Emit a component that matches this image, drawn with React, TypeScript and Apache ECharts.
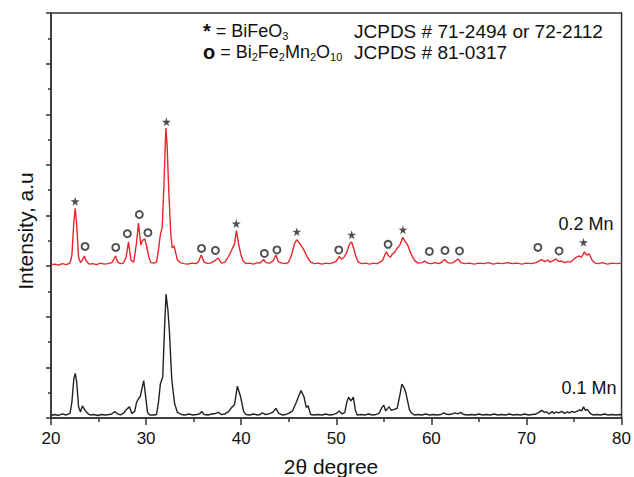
import React, { useEffect, useRef } from 'react';
import * as echarts from 'echarts';

// 2θ (degree), intensity (a.u.) — 0.2 Mn sample (offset trace, red)
const mn02: [number, number][] = [
  [20.0, 3.03], [20.4, 3.04], [20.8, 3.02], [21.2, 3.05], [21.6, 3.03], [22.0, 3.06], [22.2, 3.22],
  [22.4, 3.87], [22.55, 4.14], [22.7, 3.82], [22.9, 3.17], [23.1, 3.07], [23.3, 3.12], [23.5, 3.2],
  [23.7, 3.1], [24.0, 3.04], [24.4, 3.05], [24.8, 3.03], [25.2, 3.06], [25.6, 3.04], [26.0, 3.05],
  [26.4, 3.07], [26.8, 3.2], [27.0, 3.08], [27.3, 3.05], [27.6, 3.06], [27.9, 3.17], [28.15, 3.48],
  [28.4, 3.12], [28.7, 3.08], [29.0, 3.47], [29.2, 3.85], [29.45, 3.42], [29.6, 3.5], [29.85, 3.54],
  [30.05, 3.4], [30.3, 3.17], [30.5, 3.07], [30.8, 3.06], [31.1, 3.08], [31.3, 3.32], [31.5, 3.62],
  [31.7, 3.77], [31.9, 4.72], [32.08, 5.73], [32.2, 5.42], [32.4, 4.42], [32.6, 3.62], [32.75, 3.36],
  [32.95, 3.4], [33.1, 3.27], [33.3, 3.12], [33.6, 3.07], [34.0, 3.05], [34.4, 3.04], [34.8, 3.06],
  [35.2, 3.05], [35.5, 3.08], [35.8, 3.22], [36.1, 3.08], [36.5, 3.05], [36.9, 3.07], [37.3, 3.12],
  [37.6, 3.16], [37.9, 3.06], [38.3, 3.08], [38.7, 3.2], [39.0, 3.32], [39.3, 3.44], [39.5, 3.7],
  [39.75, 3.42], [39.95, 3.24], [40.2, 3.1], [40.5, 3.05], [40.9, 3.06], [41.3, 3.04], [41.7, 3.07],
  [42.0, 3.06], [42.35, 3.13], [42.6, 3.07], [43.0, 3.06], [43.35, 3.1], [43.65, 3.22], [43.9, 3.09],
  [44.3, 3.06], [44.7, 3.05], [45.0, 3.08], [45.3, 3.22], [45.6, 3.44], [45.85, 3.52], [46.1, 3.46],
  [46.4, 3.38], [46.7, 3.28], [47.0, 3.16], [47.3, 3.08], [47.7, 3.05], [48.1, 3.06], [48.5, 3.04],
  [48.9, 3.06], [49.3, 3.05], [49.7, 3.07], [50.0, 3.1], [50.3, 3.19], [50.55, 3.14], [50.8, 3.17],
  [51.1, 3.27], [51.35, 3.42], [51.6, 3.48], [51.85, 3.34], [52.05, 3.2], [52.3, 3.08], [52.7, 3.05],
  [53.1, 3.06], [53.5, 3.04], [53.9, 3.06], [54.3, 3.05], [54.6, 3.08], [54.9, 3.12], [55.1, 3.22],
  [55.3, 3.28], [55.5, 3.2], [55.7, 3.18], [55.9, 3.24], [56.1, 3.26], [56.4, 3.35], [56.7, 3.42],
  [57.0, 3.57], [57.2, 3.5], [57.5, 3.42], [57.8, 3.27], [58.0, 3.19], [58.3, 3.1], [58.6, 3.06],
  [59.0, 3.07], [59.3, 3.1], [59.6, 3.06], [60.0, 3.05], [60.4, 3.07], [60.8, 3.05], [61.1, 3.08],
  [61.4, 3.13], [61.7, 3.07], [62.0, 3.06], [62.3, 3.07], [62.8, 3.14], [63.1, 3.07], [63.5, 3.05],
  [64.0, 3.06], [64.5, 3.04], [65.0, 3.06], [65.5, 3.05], [66.0, 3.07], [66.5, 3.04], [67.0, 3.06],
  [67.5, 3.05], [68.0, 3.07], [68.5, 3.05], [69.0, 3.06], [69.5, 3.04], [70.0, 3.06], [70.5, 3.05],
  [71.0, 3.07], [71.3, 3.1], [71.6, 3.13], [71.9, 3.09], [72.2, 3.12], [72.5, 3.08], [72.8, 3.11],
  [73.1, 3.14], [73.4, 3.09], [73.7, 3.1], [74.0, 3.07], [74.3, 3.09], [74.6, 3.08], [74.9, 3.12],
  [75.2, 3.17], [75.5, 3.2], [75.8, 3.18], [76.1, 3.28], [76.3, 3.22], [76.6, 3.24], [76.9, 3.12],
  [77.2, 3.06], [77.6, 3.05], [78.0, 3.07], [78.5, 3.04], [79.0, 3.06], [79.5, 3.05], [80.0, 3.06],
];

// 0.1 Mn sample (black)
const mn01: [number, number][] = [
  [20.0, 0.05], [20.4, 0.07], [20.8, 0.05], [21.2, 0.08], [21.6, 0.06], [22.0, 0.09], [22.2, 0.32],
  [22.4, 0.77], [22.55, 0.88], [22.7, 0.72], [22.9, 0.22], [23.1, 0.12], [23.3, 0.24], [23.55, 0.16],
  [23.8, 0.1], [24.1, 0.06], [24.5, 0.07], [24.9, 0.05], [25.3, 0.07], [25.7, 0.06], [26.1, 0.07],
  [26.4, 0.08], [26.7, 0.13], [27.0, 0.08], [27.3, 0.06], [27.6, 0.09], [28.0, 0.18], [28.25, 0.22],
  [28.5, 0.09], [28.8, 0.13], [29.0, 0.31], [29.2, 0.38], [29.4, 0.43], [29.6, 0.61], [29.75, 0.74],
  [29.95, 0.43], [30.15, 0.11], [30.4, 0.06], [30.8, 0.06], [31.1, 0.07], [31.3, 0.31], [31.5, 0.67],
  [31.75, 0.81], [31.95, 1.82], [32.1, 2.45], [32.3, 2.12], [32.45, 1.72], [32.7, 0.76], [33.0, 0.28],
  [33.3, 0.11], [33.7, 0.07], [34.1, 0.06], [34.5, 0.08], [34.9, 0.06], [35.3, 0.07], [35.6, 0.08],
  [35.85, 0.13], [36.1, 0.07], [36.5, 0.06], [36.9, 0.08], [37.3, 0.09], [37.6, 0.11], [37.9, 0.07],
  [38.3, 0.08], [38.7, 0.13], [39.0, 0.21], [39.3, 0.26], [39.6, 0.63], [39.95, 0.41], [40.25, 0.13],
  [40.5, 0.07], [40.9, 0.06], [41.3, 0.08], [41.7, 0.06], [42.0, 0.07], [42.25, 0.1], [42.5, 0.07],
  [42.9, 0.08], [43.3, 0.11], [43.65, 0.19], [43.95, 0.09], [44.3, 0.06], [44.7, 0.07], [45.0, 0.09],
  [45.4, 0.14], [45.8, 0.31], [46.1, 0.46], [46.3, 0.54], [46.6, 0.42], [46.85, 0.21], [47.05, 0.24],
  [47.3, 0.07], [47.7, 0.06], [48.1, 0.07], [48.5, 0.06], [48.9, 0.08], [49.3, 0.06], [49.7, 0.07],
  [50.0, 0.09], [50.3, 0.14], [50.6, 0.08], [50.9, 0.11], [51.1, 0.31], [51.3, 0.41], [51.55, 0.34],
  [51.8, 0.41], [52.0, 0.16], [52.2, 0.06], [52.6, 0.07], [53.0, 0.06], [53.4, 0.08], [53.8, 0.06],
  [54.2, 0.07], [54.5, 0.09], [54.8, 0.21], [55.0, 0.25], [55.2, 0.14], [55.4, 0.19], [55.55, 0.22],
  [55.8, 0.15], [56.1, 0.17], [56.4, 0.19], [56.7, 0.46], [56.9, 0.67], [57.1, 0.61], [57.3, 0.51],
  [57.5, 0.34], [57.7, 0.16], [57.9, 0.1], [58.2, 0.06], [58.6, 0.07], [59.0, 0.06], [59.4, 0.08],
  [59.8, 0.06], [60.2, 0.07], [60.6, 0.06], [61.0, 0.07], [61.3, 0.1], [61.5, 0.08], [61.8, 0.07],
  [62.2, 0.08], [62.5, 0.1], [62.8, 0.08], [63.1, 0.11], [63.4, 0.07], [63.8, 0.06], [64.2, 0.07],
  [64.6, 0.06], [65.0, 0.08], [65.4, 0.06], [65.8, 0.07], [66.2, 0.06], [66.6, 0.08], [67.0, 0.06],
  [67.4, 0.07], [67.8, 0.06], [68.2, 0.08], [68.6, 0.06], [69.0, 0.07], [69.4, 0.06], [69.8, 0.08],
  [70.2, 0.06], [70.6, 0.07], [71.0, 0.08], [71.3, 0.11], [71.6, 0.15], [71.9, 0.11], [72.1, 0.12],
  [72.4, 0.08], [72.7, 0.13], [72.9, 0.09], [73.1, 0.12], [73.4, 0.1], [73.7, 0.13], [74.0, 0.09],
  [74.3, 0.12], [74.5, 0.1], [74.8, 0.13], [75.0, 0.11], [75.3, 0.13], [75.6, 0.16], [75.8, 0.14],
  [76.0, 0.22], [76.2, 0.15], [76.4, 0.17], [76.7, 0.09], [77.0, 0.06], [77.4, 0.07], [77.8, 0.06],
  [78.2, 0.08], [78.6, 0.06], [79.0, 0.07], [79.4, 0.06], [79.8, 0.07], [80.0, 0.06],
];

// BiFeO3 reflections (★) and Bi2Fe2Mn2O10 reflections (○) marked on the 0.2 Mn trace
const bifeo3Marks: [number, number][] = [
  [22.54, 4.28], [32.14, 5.85], [39.48, 3.84], [45.85, 3.68], [51.62, 3.62], [57.01, 3.72], [76.0, 3.47],
];
const mnPhaseMarks: [number, number][] = [
  [23.58, 3.39], [26.81, 3.37], [28.03, 3.64], [29.29, 4.02], [30.19, 3.66], [35.83, 3.35],
  [37.29, 3.31], [42.44, 3.25], [43.76, 3.32], [50.26, 3.32], [55.45, 3.43], [59.79, 3.29],
  [61.43, 3.31], [62.96, 3.3], [71.2, 3.37], [73.43, 3.3],
];

const xMin = 20;
const xMax = 80;
const xStep = 10;
const yMin = 0;
const yMax = 8;
const yStep = 1;

const FONT = '"Liberation Sans", Arial, Helvetica, sans-serif';
const STAR = 'path://M50,0 L61,35 L98,35 L68,57 L79,91 L50,70 L21,91 L32,57 L2,35 L39,35 Z';

export default function App() {
  const ref = useRef<HTMLDivElement>(null);

  useEffect(() => {
    document.body.style.margin = '0';
    const chart = echarts.init(ref.current!, null, { renderer: 'svg' });
    const axisColor = '#333';
    const legendRich = {
      m: { fontSize: 18, lineHeight: 20, fontFamily: FONT, fill: '#111' },
      b: { fontSize: 20, lineHeight: 20, fontFamily: FONT, fill: '#111', fontWeight: 'bold' },
      s: { fontSize: 11, lineHeight: 8, fontFamily: FONT, fill: '#111', verticalAlign: 'bottom' },
    };
    chart.setOption({
      animation: false,
      backgroundColor: '#fff',
      grid: {
        left: 51,
        top: 13,
        right: 8,
        bottom: 59,
        show: true,
        borderColor: axisColor,
        borderWidth: 1.5,
        backgroundColor: 'transparent',
      },
      xAxis: {
        type: 'value',
        min: xMin,
        max: xMax,
        interval: xStep,
        axisLine: { show: true, onZero: false, lineStyle: { color: axisColor, width: 1.5 } },
        axisTick: { show: true, inside: false, length: 7, lineStyle: { color: axisColor, width: 1.5 } },
        minorTick: { show: true, splitNumber: 2, length: 4, lineStyle: { color: axisColor, width: 1.5 } },
        splitLine: { show: false },
        axisLabel: { show: true, margin: 12, fontSize: 17, fontFamily: FONT, color: '#111' },
      },
      yAxis: {
        type: 'value',
        min: yMin,
        max: yMax,
        interval: yStep,
        axisLine: { show: true, onZero: false, lineStyle: { color: axisColor, width: 1.5 } },
        axisTick: { show: true, inside: false, length: 5, lineStyle: { color: axisColor, width: 1.5 } },
        minorTick: { show: true, splitNumber: 2, length: 3, lineStyle: { color: axisColor, width: 1.5 } },
        splitLine: { show: false },
        axisLabel: { show: false },
      },
      series: [
        {
          name: '0.2 Mn',
          type: 'line',
          data: mn02,
          showSymbol: false,
          lineStyle: { color: '#e8262b', width: 1.4 },
          itemStyle: { color: '#e8262b' },
          z: 2,
        },
        {
          name: '0.1 Mn',
          type: 'line',
          data: mn01,
          showSymbol: false,
          lineStyle: { color: '#222', width: 1.4 },
          itemStyle: { color: '#222' },
          z: 2,
        },
        {
          name: 'BiFeO3',
          type: 'scatter',
          data: bifeo3Marks,
          symbol: STAR,
          symbolSize: 9,
          itemStyle: { color: '#222' },
          z: 3,
        },
        {
          name: 'Bi2Fe2Mn2O10',
          type: 'scatter',
          data: mnPhaseMarks,
          symbol: 'circle',
          symbolSize: 7,
          itemStyle: { color: '#fff', borderColor: '#222', borderWidth: 1.9 },
          z: 3,
        },
      ],
      graphic: [
        {
          type: 'text',
          x: 203,
          y: 31,
          style: {
            text: '{b|*}{m| = BiFeO}{s|3}',
            rich: legendRich,
            verticalAlign: 'middle',
            align: 'left',
          },
        },
        {
          type: 'text',
          x: 203,
          y: 52,
          style: {
            text: '{b|o}{m| = Bi}{s|2}{m|Fe}{s|2}{m|Mn}{s|2}{m|O}{s|10}',
            rich: legendRich,
            verticalAlign: 'middle',
            align: 'left',
          },
        },
        {
          type: 'text',
          x: 354,
          y: 31,
          style: {
            text: 'JCPDS # 71-2494 or 72-2112',
            fontSize: 19,
            fontFamily: FONT,
            fill: '#111',
            verticalAlign: 'middle',
            align: 'left',
          },
        },
        {
          type: 'text',
          x: 354,
          y: 52,
          style: {
            text: 'JCPDS # 81-0317',
            fontSize: 19,
            fontFamily: FONT,
            fill: '#111',
            verticalAlign: 'middle',
            align: 'left',
          },
        },
        {
          type: 'text',
          x: 586,
          y: 224,
          style: {
            text: '0.2 Mn',
            fontSize: 18,
            fontFamily: FONT,
            fill: '#111',
            verticalAlign: 'middle',
            align: 'center',
          },
        },
        {
          type: 'text',
          x: 589,
          y: 388,
          style: {
            text: '0.1 Mn',
            fontSize: 18,
            fontFamily: FONT,
            fill: '#111',
            verticalAlign: 'middle',
            align: 'center',
          },
        },
        {
          type: 'text',
          x: 25,
          y: 231,
          rotation: Math.PI / 2,
          style: {
            text: 'Intensity, a.u',
            fontSize: 21,
            fontFamily: FONT,
            fill: '#111',
            verticalAlign: 'middle',
            align: 'center',
          },
        },
        {
          type: 'text',
          x: 331,
          y: 466,
          style: {
            text: '2θ degree',
            fontSize: 21,
            fontFamily: FONT,
            fill: '#111',
            verticalAlign: 'middle',
            align: 'center',
          },
        },
      ],
    });
    return () => chart.dispose();
  }, []);

  return (
    <div
      ref={ref}
      style={{ position: 'fixed', left: 0, top: 0, width: 634, height: 477, background: '#fff' }}
    />
  );
}
